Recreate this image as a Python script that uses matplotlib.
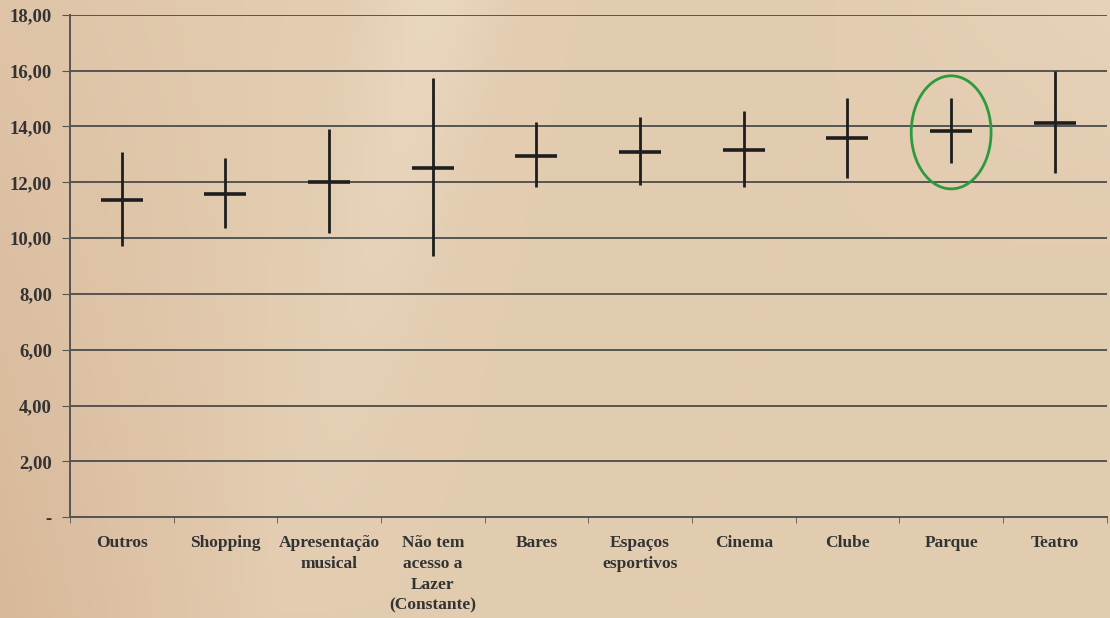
import numpy as np
import matplotlib
matplotlib.use("Agg")
import matplotlib.pyplot as plt
from matplotlib.patches import Ellipse

# dados
categorias = ["Outros", "Shopping", "Apresentação\nmusical", "Não tem\nacesso a\nLazer\n(Constante)",
              "Bares", "Espaços\nesportivos", "Cinema", "Clube", "Parque", "Teatro"]
media = [11.36, 11.58, 12.01, 12.51, 12.94, 13.08, 13.15, 13.58, 13.84, 14.12]
limite_sup = [13.08, 12.87, 13.90, 15.73, 14.16, 14.34, 14.55, 15.02, 15.02, 15.99]
limite_inf = [9.71, 10.36, 10.18, 9.35, 11.83, 11.90, 11.83, 12.15, 12.69, 12.33]
destaque = "Parque"

plt.rcParams['font.family'] = ['Liberation Serif', 'DejaVu Serif']

fig = plt.figure(figsize=(11.1, 6.18), dpi=100)

# fundo bege com faixa diagonal mais clara
bg = fig.add_axes([0, 0, 1, 1], zorder=-10)
yy, xx = np.mgrid[0:1:200j, 0:1:360j]
base = np.array([0.89, 0.80, 0.69])
escuro = np.array([0.83, 0.69, 0.57])
claro = np.array([0.93, 0.87, 0.78])
esq = np.clip(1 - xx * 4, 0, 1) * (0.4 + 0.6 * yy)
img = base * (1 - 0.7 * esq[..., None]) + escuro * 0.7 * esq[..., None]
faixa = np.exp(-((xx - 0.33 + (yy - 0.5) * 0.12) / 0.06) ** 2) * (1 - yy) * 0.6
img = img * (1 - faixa[..., None]) + claro * faixa[..., None]
canto = np.clip((xx - 0.75) * 3, 0, 1) * np.clip((0.4 - yy) * 2.5, 0, 1) * 0.5
img = img * (1 - canto[..., None]) + claro * canto[..., None]
bg.imshow(img, aspect='auto', extent=[0, 1, 0, 1], origin='upper')
bg.axis('off')

ax = fig.add_axes([0.063, 0.163, 0.934, 0.813])
ax.patch.set_alpha(0)

x = np.arange(len(categorias))
m = np.array(media)
err = [m - np.array(limite_inf), np.array(limite_sup) - m]
ax.errorbar(x, m, yerr=err, fmt='_', ms=30, mew=2.6, color='#1e1e1e',
            ecolor='#1e1e1e', elinewidth=2, capsize=0, zorder=5)

i = categorias.index(destaque)
ax.add_patch(Ellipse((x[i], m[i] - 0.05), 0.77, 4.05, fill=False,
                     edgecolor='#2e9a3e', lw=2, zorder=6))

ax.set_xlim(-0.5, len(categorias) - 0.5)
ax.set_ylim(0, 18)
ax.set_yticks(np.arange(0, 19, 2))
ax.set_yticklabels(['-'] + [f"{v:.2f}".replace('.', ',') for v in np.arange(2, 19, 2)])
ax.yaxis.grid(True, color='#555555', lw=1.4)
ax.set_axisbelow(True)

ax.set_xticks(x)
ax.set_xticklabels(categorias, fontsize=12.5, fontweight='bold', color='#333333',
                   linespacing=1.4, va='top')
ax.set_xticks(np.arange(-0.5, len(categorias), 1), minor=True)
ax.tick_params(axis='x', which='major', length=0, pad=13)
ax.tick_params(axis='x', which='minor', length=4, color='#555555')
ax.tick_params(axis='y', length=6, color='#555555', labelsize=13.5, labelcolor='#333333', pad=7)
for lab in ax.get_yticklabels():
    lab.set_fontweight('bold')

for s in ['top', 'right']:
    ax.spines[s].set_visible(False)
ax.spines['left'].set_color('#555555')
ax.spines['left'].set_linewidth(1.4)
ax.spines['bottom'].set_color('#555555')
ax.spines['bottom'].set_linewidth(1.4)

fig.savefig("out.png", dpi=100)
